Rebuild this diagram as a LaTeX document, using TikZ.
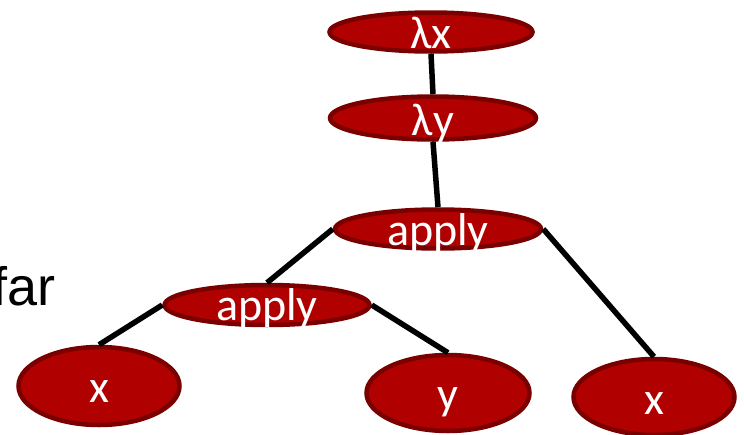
\documentclass[tikz,border=0pt]{standalone}
\usepackage{fontspec}
\setmainfont{Carlito}
\newfontfamily\farfont{Liberation Sans}
\usetikzlibrary{shapes.geometric}
\definecolor{nodefill}{RGB}{176,0,0}
\definecolor{nodeedge}{RGB}{122,0,0}
\tikzset{
  tnode/.style={ellipse, fill=nodefill, draw=nodeedge, line width=4.5pt, inner sep=0pt, text=white,
    font=\fontsize{46}{46}\selectfont},
  edge/.style={line width=5.5pt, black},
}
\newcommand{\lbl}[2]{\makebox[0pt]{\smash{\raisebox{-#1pt}{#2}}}}
\begin{document}
\begin{tikzpicture}[x=1pt,y=-1pt]
\useasboundingbox (0,0) rectangle (744,434);
\node[font=\farfont\fontsize{54}{54}\selectfont, anchor=base east, inner sep=0pt] (far) at (56,305) {far};
\node[tnode, minimum width=203pt, minimum height=39pt] (lx) at (431,32) {\lbl{16}{λx}};
\node[tnode, minimum width=206pt, minimum height=43pt] (ly) at (433,118) {\lbl{17}{λy}};
\node[tnode, minimum width=206pt, minimum height=39pt] (ap) at (438,229) {\lbl{16}{apply}};
\node[tnode, minimum width=205pt, minimum height=40pt] (ap2) at (267,305) {\lbl{15}{apply}};
\node[tnode, minimum width=161pt, minimum height=78pt] (xl) at (99,386) {\lbl{16}{x}};
\node[tnode, minimum width=163pt, minimum height=76pt] (yy) at (448,393) {\lbl{16}{y}};
\node[tnode, minimum width=161pt, minimum height=76pt] (xr) at (654,397) {\lbl{17}{x}};
\draw[edge] (lx.south) -- (ly.north);
\draw[edge] (ly.south) -- (ap.north);
\draw[edge] (ap.west) -- (ap2.north);
\draw[edge] (ap.east) -- (xr.north);
\draw[edge] (ap2.west) -- (xl.north);
\draw[edge] (ap2.east) -- (yy.north);
\end{tikzpicture}
\end{document}
